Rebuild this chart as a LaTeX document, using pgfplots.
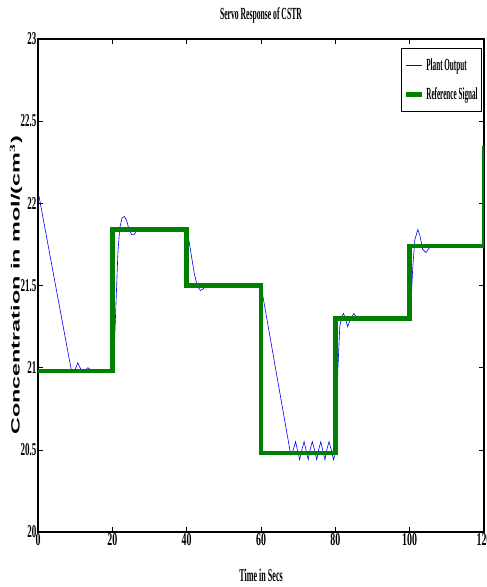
\documentclass[border=0pt]{standalone}
\usepackage{pgfplots}
\pgfplotsset{compat=1.18}
\usepackage{fontspec}
\setmainfont{Liberation Serif}
\newfontfamily\labsans{Liberation Sans}
\definecolor{refgreen}{RGB}{0,128,0}
\begin{document}
\begin{tikzpicture}
\useasboundingbox (-38pt,-55pt) rectangle (449pt,532pt);
\begin{axis}[
  at={(0pt,0pt)}, anchor=south west,
  width=446pt, height=493pt, scale only axis,
  xmin=0, xmax=120, ymin=20, ymax=23,
  xtick={0,20,...,120}, ytick={20,20.5,...,23},
  tick align=inside, major tick length=5pt,
  every tick/.style={black, line width=0.6pt},
  axis line style={line width=1.2pt},
  /pgf/number format/assume math mode=true,
  xticklabel={\scalebox{0.55}[1]{\bfseries\pgfmathprintnumber{\tick}}},
  yticklabel={\scalebox{0.5}[1]{\bfseries\pgfmathprintnumber{\tick}}},
  ticklabel style={font=\fontsize{18}{18}\selectfont},
  yticklabel style={/pgf/number format/fixed, /pgf/number format/precision=1, xshift=2pt},
  xticklabel style={yshift=2pt},
  title={\scalebox{0.45}[1]{\bfseries Servo Response of CSTR}},
  title style={font=\fontsize{17}{17}\selectfont, at={(0.5,1)}, anchor=center, yshift=18pt},
  xlabel={\scalebox{0.45}[1]{\bfseries Time in Secs}},
  xlabel style={font=\fontsize{18}{18}\selectfont, at={(0.5,0)}, anchor=center, yshift=-43pt},
  ylabel={\scalebox{1.95}[1]{\labsans\bfseries Concentration in mol/(cm$^{\mathbf{3}}$)}},
  ylabel style={font=\fontsize{12}{12}\selectfont, at={(0,0.5)}, anchor=center, yshift=22pt, xshift=0pt},
  legend style={at={(1,1)}, anchor=north east, xshift=-2pt, yshift=-9pt,
    draw=black, line width=0.8pt, font=\fontsize{17}{17}\selectfont,
    cells={anchor=west}, row sep=12pt, inner xsep=2pt, inner ysep=8pt},
  legend image code/.code={\draw[#1] (0pt,0pt) -- (16pt,0pt);},
  clip=true,
]
\addplot[blue, line width=0.6pt] coordinates {
(0,22.05) (0.3,22.04) (9,20.98) (9.5,20.97) (10.2,21.0) (10.7,21.03) (11.3,21.0) (12,20.97) (12.6,20.98) (13.4,21.0) (14,20.99) (20,20.99)
(20.5,21.1) (21,21.4) (21.5,21.7) (22,21.85) (22.6,21.91) (23.2,21.92) (23.8,21.9) (24.5,21.84) (25.2,21.81) (25.8,21.81) (26.5,21.83) (27.5,21.85) (28.5,21.85) (30,21.84) (40,21.84)
(40.2,21.83) (41,21.72) (42,21.58) (42.8,21.5) (43.7,21.47) (44.5,21.48) (45.5,21.51) (46.5,21.51) (48,21.5) (60,21.5)
(68,20.47) (68.7,20.5) (69.3,20.55) (69.8,20.5) (70.4,20.44) (71,20.5) (71.6,20.55) (72.1,20.5) (72.7,20.44) (73.2,20.5) (73.8,20.55) (74.4,20.5) (75,20.44) (75.5,20.5) (76.1,20.55) (76.6,20.5) (77.2,20.44) (77.7,20.5) (78.3,20.55) (78.9,20.5) (79.5,20.44) (79.9,20.47)
(80.3,20.7) (80.7,21.0) (81.2,21.25) (81.7,21.31) (82.2,21.33) (82.7,21.3) (83.3,21.25) (84,21.29) (85,21.33) (85.6,21.31) (86.1,21.29) (87,21.3) (88,21.31) (89,21.3) (100,21.29)
(100.3,21.35) (100.8,21.6) (101.4,21.78) (102.2,21.84) (102.8,21.8) (103.5,21.72) (104.4,21.70) (105.3,21.73) (106.3,21.75) (107.5,21.74) (120,21.74)
};
\addlegendentry{\scalebox{0.42}[1]{\bfseries Plant Output}}
\addplot[refgreen, line width=4.5pt] coordinates {
(0,20.98) (20,20.98) (20,21.84) (40,21.84) (40,21.5) (60,21.5) (60,20.48) (80,20.48) (80,21.3) (100,21.3) (100,21.74) (120,21.74) (120,22.35)
};
\addlegendentry{\scalebox{0.42}[1]{\bfseries Reference Signal}}
\end{axis}
\end{tikzpicture}
\end{document}
